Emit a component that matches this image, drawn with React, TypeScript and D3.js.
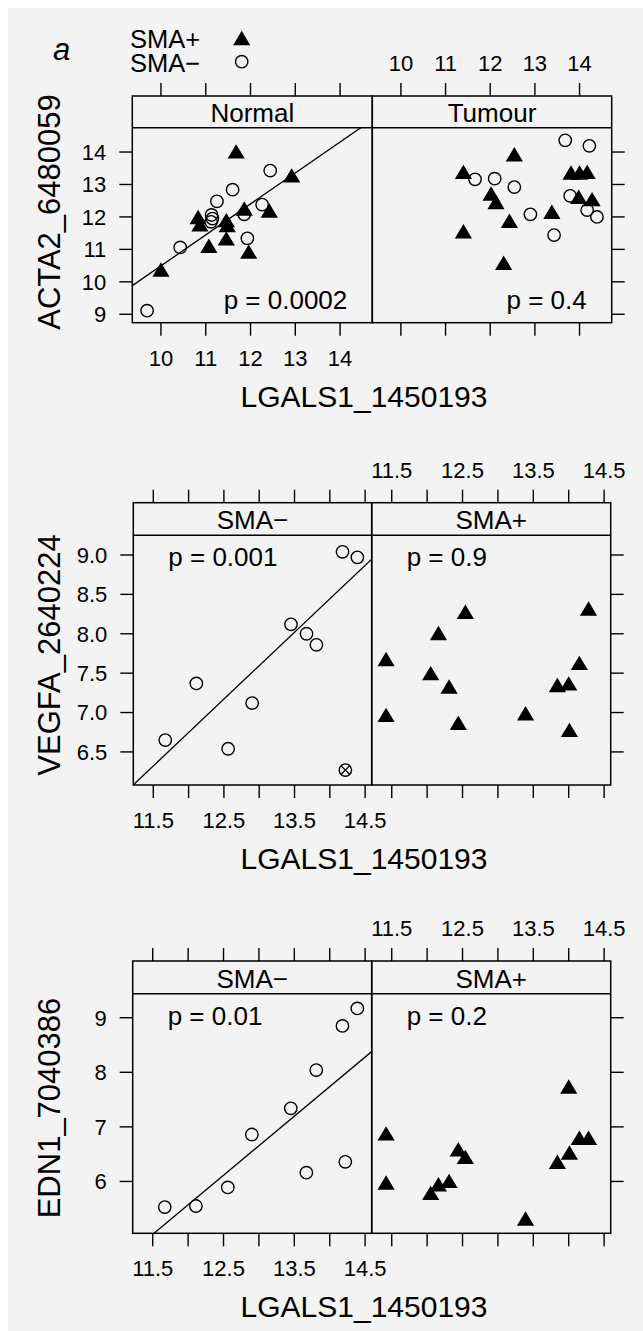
import React, { useEffect, useRef } from 'react';
import * as d3 from 'd3';

const W = 643;
const H = 1331;
const FONT = '"Liberation Sans", Arial, Helvetica, sans-serif';

// --- row 1: ACTA2 vs LGALS1, Normal / Tumour ---
const normalPosX = [10.0, 10.83, 10.87, 11.07, 11.46, 11.48, 11.46, 11.68, 11.86, 11.96, 12.42, 12.92];
const normalPosY = [10.38, 12.0, 11.77, 11.11, 11.9, 11.75, 11.34, 14.02, 12.26, 10.93, 12.2, 13.28];
const normalNegX = [9.69, 10.43, 11.13, 11.15, 11.12, 11.25, 11.6, 11.86, 11.93, 12.26, 12.44];
const normalNegY = [9.11, 11.06, 12.06, 11.95, 11.85, 12.48, 12.84, 12.08, 11.34, 12.38, 13.43];

const tumourPosX = [11.4, 11.4, 12.02, 12.13, 12.43, 12.54, 12.3, 13.38, 13.81, 14.0, 14.17, 13.98, 14.28];
const tumourPosY = [13.39, 11.56, 12.72, 12.46, 11.88, 13.93, 10.59, 12.16, 13.37, 13.37, 13.39, 12.62, 12.55];
const tumourNegX = [11.66, 12.1, 12.54, 12.9, 13.43, 13.68, 13.79, 14.22, 14.17, 14.39];
const tumourNegY = [13.16, 13.18, 12.92, 12.08, 11.44, 14.36, 12.65, 14.19, 12.21, 12.0];

// --- rows 2 and 3: tumour samples split by SMA status ---
const lgalsNeg = [11.67, 12.11, 12.56, 12.9, 13.45, 13.67, 13.81, 14.18, 14.39, 14.22];
const lgalsPos = [11.42, 11.42, 12.05, 12.16, 12.31, 12.44, 12.54, 13.39, 13.84, 14.0, 14.01, 14.15, 14.28];

const vegfaNeg = [6.65, 7.37, 6.54, 7.12, 8.12, 8.0, 7.86, 9.04, 8.97, 6.27];
const vegfaPos = [7.68, 6.97, 7.5, 8.01, 7.33, 6.87, 8.28, 6.99, 7.35, 7.37, 6.78, 7.63, 8.32];
const vegfaExcluded = [9]; // drawn as crossed circle

const edn1Neg = [5.53, 5.55, 5.89, 6.86, 7.34, 6.16, 8.04, 8.85, 9.17, 6.36];
const edn1Pos = [6.88, 5.98, 5.79, 5.95, 6.01, 6.59, 6.45, 5.32, 6.36, 7.74, 6.53, 6.8, 6.8];

// fitted lines [intercept, slope]
const normalFit = [0.952, 0.954];
const vegfaFit = [-3.442, 0.849];
const edn1Fit = [-7.424, 1.083];

const topTicks = [10, 11, 12, 13, 14];
const lowTicks = [11.5, 12, 12.5, 13, 13.5, 14, 14.5];
const acta2Ticks = [9, 10, 11, 12, 13, 14];
const vegfaTicks = [6.5, 7, 7.5, 8, 8.5, 9];
const edn1Ticks = [6, 7, 8, 9];

const pairs = (xs, ys) => xs.map((x, i) => ({ x, y: ys[i], i }));

const rows = [
  {
    id: 'r1', top: 96, strip: 127.7, bottom: 322.7, left: 132.3, mid: 372.3, right: 611.7,
    xDomain: [9.36, 14.72], yDomain: [8.74, 14.75],
    xTicks: topTicks, xLabel: d => d3.format('d')(d),
    yTicks: acta2Ticks, yLabel: d => d3.format('d')(d),
    yTitle: 'ACTA2_6480059', yTitleY: 212,
    pMode: 'br',
    panels: [
      { name: 'Normal', pos: pairs(normalPosX, normalPosY), neg: pairs(normalNegX, normalNegY), fit: normalFit, p: 'p = 0.0002', out: [] },
      { name: 'Tumour', pos: pairs(tumourPosX, tumourPosY), neg: pairs(tumourNegX, tumourNegY), fit: null, p: 'p = 0.4', out: [] },
    ],
  },
  {
    id: 'r2', top: 502.7, strip: 535.3, bottom: 785, left: 133.3, mid: 371.7, right: 610.7,
    xDomain: [11.217, 14.593], yDomain: [6.08, 9.25],
    xTicks: lowTicks, xLabel: d => (d % 1 === 0.5 ? d3.format('.1f')(d) : ''),
    yTicks: vegfaTicks, yLabel: d => d3.format('.1f')(d),
    yTitle: 'VEGFA_2640224', yTitleY: 655,
    pMode: 'tl',
    panels: [
      { name: 'SMA\u2212', pos: [], neg: pairs(lgalsNeg, vegfaNeg), fit: vegfaFit, p: 'p = 0.001', out: vegfaExcluded },
      { name: 'SMA+', pos: pairs(lgalsPos, vegfaPos), neg: [], fit: null, p: 'p = 0.9', out: [] },
    ],
  },
  {
    id: 'r3', top: 961, strip: 993.7, bottom: 1233.3, left: 132.7, mid: 371.7, right: 610.7,
    xDomain: [11.217, 14.593], yDomain: [5.05, 9.44],
    xTicks: lowTicks, xLabel: d => (d % 1 === 0.5 ? d3.format('.1f')(d) : ''),
    yTicks: edn1Ticks, yLabel: d => d3.format('d')(d),
    yTitle: 'EDN1_7040386', yTitleY: 1108,
    pMode: 'tl',
    panels: [
      { name: 'SMA\u2212', pos: [], neg: pairs(lgalsNeg, edn1Neg), fit: edn1Fit, p: 'p = 0.01', out: [] },
      { name: 'SMA+', pos: pairs(lgalsPos, edn1Pos), neg: [], fit: null, p: 'p = 0.2', out: [] },
    ],
  },
];

const TICK = 13;
const triPath = 'M0,-7.2L8.6,7.2L-8.6,7.2Z';

const App = () => {
  const ref = useRef(null);

  useEffect(() => {
    const svg = d3.select(ref.current);
    svg.selectAll('*').remove();

    svg.append('rect').attr('x', 8).attr('y', 8)
      .attr('width', W - 8).attr('height', H - 8).attr('fill', '#f3f3f3');

    // legend
    svg.append('text').attr('x', 53).attr('y', 60)
      .style('font-size', '31px').style('font-style', 'italic').text('a');
    svg.append('text').attr('x', 130).attr('y', 47.5).style('font-size', '25.5px').text('SMA+');
    svg.append('text').attr('x', 130).attr('y', 71.5).style('font-size', '25.5px').text('SMA\u2212');
    svg.append('path').attr('d', triPath).attr('transform', 'translate(241.7,38)').attr('fill', '#000');
    svg.append('circle').attr('cx', 241.7).attr('cy', 61.7).attr('r', 6.2)
      .attr('fill', 'none').attr('stroke', '#000').attr('stroke-width', 1.4);

    rows.forEach(row => {
      const g = svg.append('g');
      const y = d3.scaleLinear().domain(row.yDomain).range([row.bottom, row.strip]);
      const edges = [[row.left, row.mid], [row.mid, row.right]];

      edges.forEach(([x0, x1], pi) => {
        const panel = row.panels[pi];
        const x = d3.scaleLinear().domain(row.xDomain).range([x0, x1]);
        const clipId = `clip-${row.id}-${pi}`;
        g.append('clipPath').attr('id', clipId)
          .append('rect').attr('x', x0).attr('y', row.strip)
          .attr('width', x1 - x0).attr('height', row.bottom - row.strip);

        const plot = g.append('g').attr('clip-path', `url(#${clipId})`);

        if (panel.fit) {
          const [a, b] = panel.fit;
          const line = d3.line().x(d => x(d)).y(d => y(a + b * d));
          plot.append('path').attr('d', line(row.xDomain))
            .attr('fill', 'none').attr('stroke', '#000').attr('stroke-width', 1.3);
        }

        panel.neg.forEach(d => {
          const cx = x(d.x), cy = y(d.y);
          plot.append('circle').attr('cx', cx).attr('cy', cy).attr('r', 6.2)
            .attr('fill', 'none').attr('stroke', '#000').attr('stroke-width', 1.4);
          if (panel.out.includes(d.i)) {
            const k = 4.4;
            plot.append('path')
              .attr('d', `M${cx - k},${cy - k}L${cx + k},${cy + k}M${cx - k},${cy + k}L${cx + k},${cy - k}`)
              .attr('stroke', '#000').attr('stroke-width', 1.3);
          }
        });

        panel.pos.forEach(d => {
          plot.append('path').attr('d', triPath)
            .attr('transform', `translate(${x(d.x)},${y(d.y)})`).attr('fill', '#000');
        });

        // frame + strip
        g.append('rect').attr('x', x0).attr('y', row.top)
          .attr('width', x1 - x0).attr('height', row.bottom - row.top)
          .attr('fill', 'none').attr('stroke', '#000').attr('stroke-width', 1.5);
        g.append('line').attr('x1', x0).attr('x2', x1)
          .attr('y1', row.strip).attr('y2', row.strip)
          .attr('stroke', '#000').attr('stroke-width', 1.5);
        g.append('text').attr('x', (x0 + x1) / 2).attr('y', row.strip - 6)
          .attr('text-anchor', 'middle').style('font-size', '26px').text(panel.name);

        if (row.pMode === 'br') {
          g.append('text').attr('x', x1 - 25).attr('y', row.bottom - 13.4)
            .attr('text-anchor', 'end').style('font-size', '26px').text(panel.p);
        } else {
          g.append('text').attr('x', x0 + 35).attr('y', row.strip + 31)
            .attr('text-anchor', 'start').style('font-size', '26px').text(panel.p);
        }

        // x ticks, top and bottom
        row.xTicks.forEach(t => {
          g.append('line').attr('x1', x(t)).attr('x2', x(t))
            .attr('y1', row.top - TICK).attr('y2', row.top)
            .attr('stroke', '#000').attr('stroke-width', 1.4);
          g.append('line').attr('x1', x(t)).attr('x2', x(t))
            .attr('y1', row.bottom).attr('y2', row.bottom + TICK)
            .attr('stroke', '#000').attr('stroke-width', 1.4);
          const label = row.xLabel(t);
          if (!label) return;
          if (pi === 1) {
            g.append('text').attr('x', x(t)).attr('y', row.top - 25)
              .attr('text-anchor', 'middle').style('font-size', '22px').text(label);
          } else {
            g.append('text').attr('x', x(t)).attr('y', row.bottom + 43)
              .attr('text-anchor', 'middle').style('font-size', '22px').text(label);
          }
        });
      });

      // y ticks: labelled on the left, bare on the right
      row.yTicks.forEach(t => {
        g.append('line').attr('x1', row.left - TICK).attr('x2', row.left)
          .attr('y1', y(t)).attr('y2', y(t))
          .attr('stroke', '#000').attr('stroke-width', 1.4);
        g.append('line').attr('x1', row.right).attr('x2', row.right + TICK)
          .attr('y1', y(t)).attr('y2', y(t))
          .attr('stroke', '#000').attr('stroke-width', 1.4);
        g.append('text').attr('x', row.left - 26).attr('y', y(t)).attr('dy', '0.36em')
          .attr('text-anchor', 'end').style('font-size', '22px').text(row.yLabel(t));
      });

      g.append('text')
        .attr('transform', `translate(60,${row.yTitleY}) rotate(-90)`)
        .attr('text-anchor', 'middle').style('font-size', '31px').text(row.yTitle);
      g.append('text').attr('x', 364).attr('y', row.bottom + 84)
        .attr('text-anchor', 'middle').style('font-size', '30px').text('LGALS1_1450193');
    });
  }, []);

  return (
    <svg ref={ref} width={W} height={H}
      style={{ position: 'absolute', left: 0, top: 0, fontFamily: FONT, display: 'block' }} />
  );
};

export default App;
